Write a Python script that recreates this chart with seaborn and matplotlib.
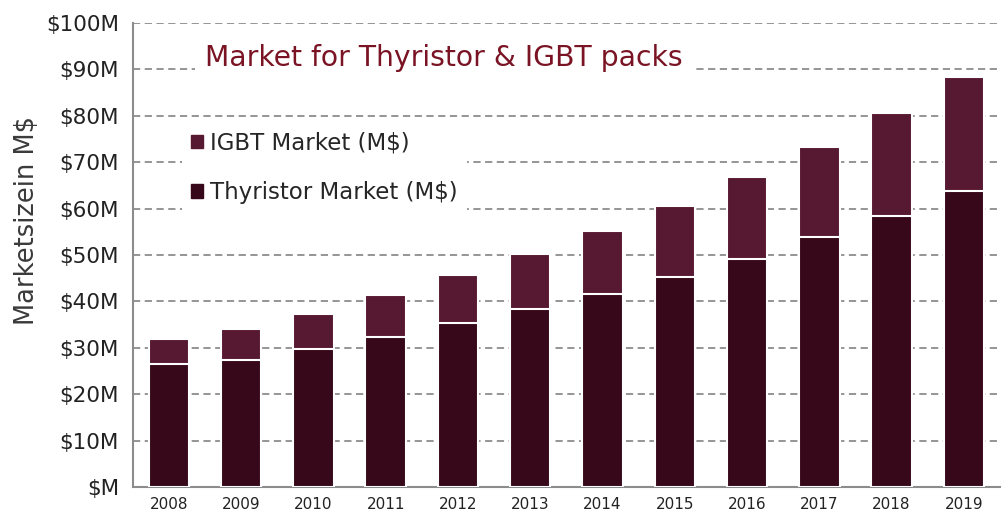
import matplotlib
matplotlib.use("Agg")
import matplotlib.pyplot as plt
import matplotlib.patches as mpatches
import numpy as np
import pandas as pd
import seaborn as sns

# ---------------------------------------------------------------------------
# Data (M$)
# ---------------------------------------------------------------------------
years = ["2008", "2009", "2010", "2011", "2012", "2013",
         "2014", "2015", "2016", "2017", "2018", "2019"]
thyristor = [26.5, 27.4, 29.7, 32.4, 35.4, 38.4,
             41.6, 45.3, 49.1, 53.8, 58.4, 63.8]
igbt = [5.4, 6.7, 7.5, 9.0, 10.3, 11.8,
        13.6, 15.3, 17.6, 19.5, 22.2, 24.5]
y_ticks = [0, 10, 20, 30, 40, 50, 60, 70, 80, 90, 100]
y_labels = ["$M"] + [f"${v}M" for v in y_ticks[1:]]

thy_color = "#36081a"
igbt_color = "#561931"
grid_color = "#8c8c8c"

df = pd.DataFrame({"year": years, "thyristor": thyristor, "igbt": igbt})
df["total"] = df["thyristor"] + df["igbt"]

# ---------------------------------------------------------------------------
# Style
# ---------------------------------------------------------------------------
sns.set_style("white")
plt.rcParams["font.family"] = ["DejaVu Sans"]

fig = plt.figure(figsize=(10.06, 5.2), dpi=100)
ax = fig.add_axes([0.132, 0.0635, 0.862, 0.8925])

sns.barplot(data=df, x="year", y="total", color=igbt_color, saturation=1,
            width=0.56, edgecolor="white", linewidth=1.5, ax=ax, zorder=3)
sns.barplot(data=df, x="year", y="thyristor", color=thy_color, saturation=1,
            width=0.56, edgecolor="white", linewidth=1.5, ax=ax, zorder=4)

ax.set_ylim(0, 100)
ax.set_xlim(-0.5, len(years) - 0.5)
ax.set_yticks(y_ticks)
ax.set_yticklabels(y_labels, fontsize=15.5, color="#222222")
ax.tick_params(axis="y", direction="out", length=7, width=1.2,
               color=grid_color, pad=3)

# year labels, with tick marks between categories
ax.set_xticks(range(len(years)))
ax.set_xticklabels(years, fontsize=11, color="#222222")
ax.tick_params(axis="x", which="major", length=0, pad=7)
ax.set_xticks(np.arange(-0.5, len(years)), minor=True)
ax.tick_params(axis="x", which="minor", direction="out", length=7,
               width=1.2, color=grid_color)

ax.set_xlabel("")
ax.set_ylabel("Marketsizein M$", fontsize=18.5, color="#3a3a3a")
ax.yaxis.set_label_coords(-0.107, 0.575)

ax.yaxis.grid(True, linestyle=(0, (4, 2.5)), color=grid_color,
              linewidth=1.3, zorder=0)
ax.set_axisbelow(True)
for side in ["top", "right"]:
    ax.spines[side].set_visible(False)
for side in ["left", "bottom"]:
    ax.spines[side].set_color(grid_color)
    ax.spines[side].set_linewidth(1.5)

# title box
ax.text(0.083, 0.925, "Market for Thyristor & IGBT packs",
        transform=ax.transAxes, ha="left", va="center",
        fontsize=20.3, color="#7a1424", zorder=5,
        bbox=dict(facecolor="white", edgecolor="none", pad=7))

# legend (IGBT first)
handles = [mpatches.Patch(color=igbt_color, label="IGBT Market (M$)"),
           mpatches.Patch(color=thy_color, label="Thyristor Market (M$)")]
leg = ax.legend(handles=handles, loc="upper left",
                bbox_to_anchor=(0.043, 0.81), frameon=True,
                fontsize=16.5, handlelength=0.55, handleheight=0.55,
                handletextpad=0.3, labelspacing=1.15, borderpad=0.4)
leg.get_frame().set_facecolor("white")
leg.get_frame().set_edgecolor("none")
leg.get_frame().set_alpha(1.0)
leg.set_zorder(5)

fig.savefig("out.png", dpi=100)
plt.close(fig)
